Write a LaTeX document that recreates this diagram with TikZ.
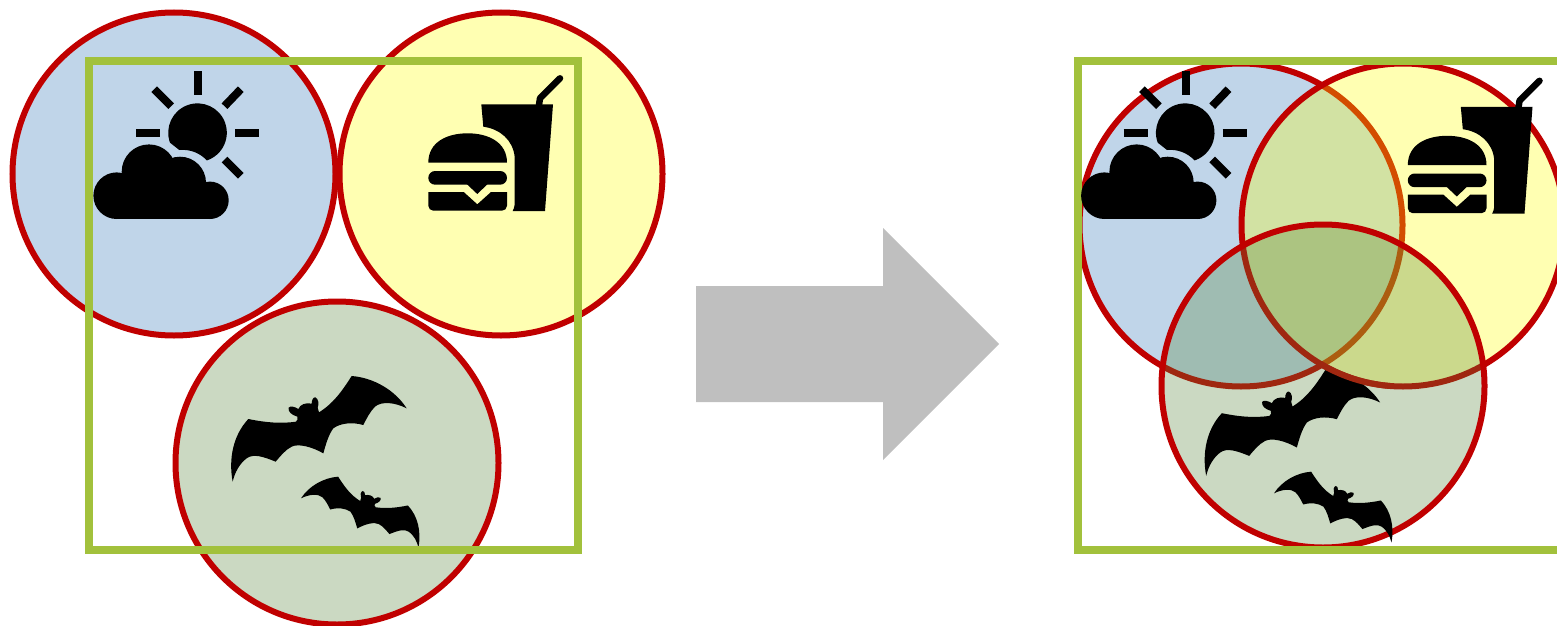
\documentclass[tikz,border=0pt]{standalone}
\usepackage{xcolor}
\usepackage{tikz}
\definecolor{ringred}{HTML}{C00000}
\definecolor{ringdark}{HTML}{A02710}
\definecolor{framegreen}{HTML}{A2C13C}
\definecolor{skyblue}{HTML}{2E75B6}
\definecolor{foodyellow}{HTML}{FFFF00}
\definecolor{batgreen}{HTML}{548235}
\definecolor{arrowgray}{HTML}{BFBFBF}
\begin{document}
\begin{tikzpicture}[
    x=1pt, y=-1pt,
    ring/.style={draw=ringred, line width=6pt, fill opacity=0.3, draw opacity=1},
    frame/.style={draw=framegreen, line width=8pt},
    ray/.style={line width=8pt},
    sunicon/.pic={
        % Rays
        \draw [ray] (197.8,71) -- (197.8,94.7);
        \draw [ray] (136,133) -- (160,133);
        \draw [ray] (235,133) -- (259,133);
        \draw [ray] (154.2,89.2) -- (171.2,106.2);
        \draw [ray] (240.8,89.2) -- (224.5,106.2);
        \draw [ray] (240.8,175.8) -- (224.5,159.5);
        % Sun
        \fill (170,142.7) arc [start angle=160, end angle=431.4, radius=29.3]
            .. controls (200,153) and (190,149) .. (179.3,150) -- cycle;
        % Cloud
        \fill (116.7,195.7) circle [radius=23.3];
        \fill (149,171.7) circle [radius=27.3];
        \fill (180,182.7) circle [radius=26];
        \fill (210,200.3) circle [radius=18.7];
        \fill (116.7,190) rectangle (210,219);
    },
    burgericon/.pic={
        % Bun and patty
        \fill (428.3,162.7) .. controls (428.3,142) and (447,133.3) .. (467.7,133.3)
            .. controls (488,133.3) and (507,142) .. (507,162.7) -- cycle;
        \fill [rounded corners=6.8pt] (428.3,171) rectangle (507,184.7);
        \fill (466.7,184) -- (477.3,194) -- (487.7,184) -- cycle;
        \fill (428.3,192) -- (463.7,192) -- (477.3,204.3) -- (491,192) -- (507,192)
            [rounded corners=5pt] -- (507,210.7) -- (428.3,210.7) [sharp corners] -- cycle;
        % Cup
        \fill (481.3,104.3) -- (553,104.3) -- (545,211) -- (512.7,211)
            .. controls (514.7,207) and (514.7,205) .. (514.7,200) -- (514.7,157)
            .. controls (513,140) and (500,129) .. (483.3,126.7) -- cycle;
        \draw [line width=6.5pt, line cap=round, line join=round] (539,105) -- (540,98.3) -- (560,78.3);
    },
    baticon/.pic={
        \fill (85,162) .. controls (135,172) and (180,177) .. (228,170)
            .. controls (232,165) and (235,162) .. (232,155)
            .. controls (215,150) and (203,140) .. (206,128)
            .. controls (210,122) and (225,125) .. (235,132)
            .. controls (240,118) and (258,112) .. (275,116)
            .. controls (275,105) and (280,96) .. (286,97)
            .. controls (295,100) and (298,118) .. (293,128)
            -- (297,142)
            .. controls (340,115) and (365,80) .. (395,33)
            .. controls (460,38) and (525,75) .. (560,130)
            .. controls (525,112) and (485,108) .. (465,125)
            .. controls (450,140) and (440,160) .. (430,180)
            .. controls (395,170) and (360,175) .. (340,190)
            .. controls (325,210) and (317,240) .. (310,265)
            .. controls (275,245) and (235,235) .. (215,245)
            .. controls (195,255) and (180,275) .. (167,290)
            .. controls (130,275) and (100,265) .. (80,280)
            .. controls (60,295) and (45,320) .. (38,350)
            .. controls (25,280) and (40,210) .. (85,162) -- cycle;
    }
]
    \clip (0,0) rectangle (1557,626);

    % Left group
    \draw [ring, fill=skyblue] (174,174) circle [radius=161.5];
    \draw [ring, fill=foodyellow] (501,174) circle [radius=161.5];
    \draw [ring, fill=batgreen] (337,463) circle [radius=161.5];
    \pic {sunicon};
    \pic {burgericon};
    \pic [shift={(220,365)}, scale=1/3] {baticon};
    \pic [shift={(427,469.3)}, xscale=-0.225, yscale=0.2233] {baticon};
    \draw [frame] (88.5,61) rectangle (578,550);

    % Arrow
    \fill [arrowgray] (696,286) -- (883,286) -- (883,228) -- (999,344) -- (883,460) -- (883,402) -- (696,402) -- cycle;

    % Right group
    \draw [ring, fill=skyblue] (1241,225) circle [radius=161.5];
    \draw [ring, fill=foodyellow] (1403,225) circle [radius=161.5];
    \draw [ring, fill=batgreen] (1323,386) circle [radius=161.5];
    \draw [frame] (1078,61) rectangle (1568,550);
    \pic [shift={(987.7,0)}] {sunicon};
    \pic [shift={(979.5,2.5)}] {burgericon};
    \pic [shift={(1193.5,359.2)}, scale=1/3] {baticon};
    \pic [shift={(1400,464.3)}, xscale=-0.225, yscale=0.2233] {baticon};
    % Band back over the wing tip
    \begin{scope}
        \clip (1322,360) rectangle (1390,395);
        \draw [draw=ringdark, line width=6pt] (1403,225) circle [radius=161.5];
    \end{scope}
\end{tikzpicture}
\end{document}
